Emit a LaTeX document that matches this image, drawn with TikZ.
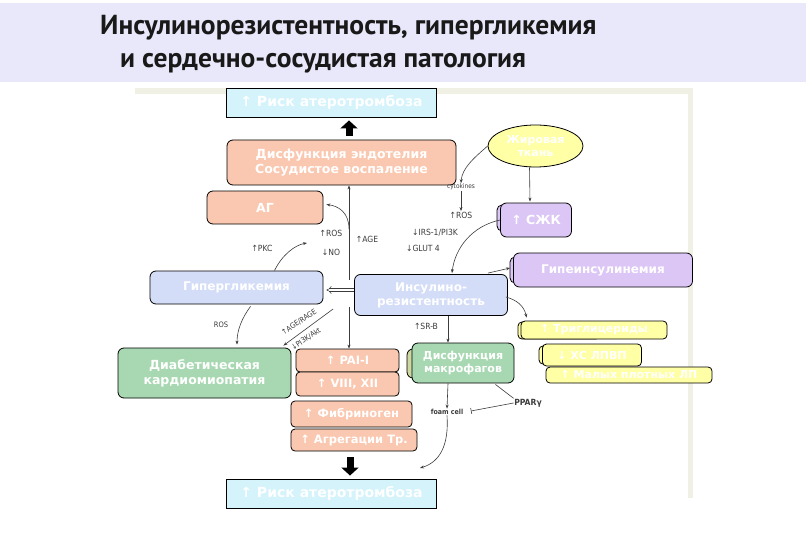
\documentclass[tikz,border=0pt]{standalone}
\usepackage{fontspec}
\setmainfont{DejaVu Sans}
\newfontfamily\titlefont{PT Sans}
\newfontfamily\lblfont{DejaVu Sans Condensed}
\usetikzlibrary{arrows.meta,shapes.geometric,calc}
\definecolor{peach}{RGB}{250,200,176}
\definecolor{cyanbox}{RGB}{212,243,251}
\definecolor{bluebox}{RGB}{212,221,248}
\definecolor{lavbox}{RGB}{220,198,246}
\definecolor{greenbox}{RGB}{168,216,178}
\definecolor{yelbox}{RGB}{255,255,165}
\definecolor{olivebox}{RGB}{205,215,160}
\definecolor{band}{RGB}{232,232,250}
\definecolor{framec}{RGB}{240,240,228}
\definecolor{titlec}{RGB}{25,25,25}
\definecolor{linec}{RGB}{60,60,60}
\begin{document}
\begin{tikzpicture}[x=1pt,y=-1pt,
  box/.style={draw=black, line width=0.8pt, rounded corners=6pt, text=white,
    font=\bfseries\fontsize{12.5}{15}\selectfont, align=center, inner sep=0pt},
  riskbox/.style={draw=black, line width=0.9pt, fill=cyanbox, text=white,
    font=\bfseries\fontsize{14}{16}\selectfont, inner sep=0pt,
    minimum width=210, minimum height=29},
  smallbox/.style={box, rounded corners=4pt, font=\bfseries\fontsize{11}{13}\selectfont},
  lbl/.style={font=\lblfont\fontsize{8.5}{9}\selectfont, text=linec, inner sep=0.5pt},
  arr/.style={draw=linec, line width=0.6pt, -{Stealth[length=4pt,width=3pt]}},
  plain/.style={draw=linec, line width=0.6pt},
  blockarr/.style={line width=7pt, draw=black, -{Triangle[length=8pt,width=17pt]}}
]
\useasboundingbox (0,0) rectangle (810,540);
% title band
\fill[band] (0,3) rectangle (806,82);
\node[anchor=west, text=titlec, inner sep=0pt] (t1) at (100,28)
  {\titlefont\bfseries\fontsize{27.5}{30}\selectfont Инсулинорезистентность, гипергликемия};
\node[anchor=west, text=titlec, inner sep=0pt] (t2) at (120,63)
  {\titlefont\bfseries\fontsize{27.5}{30}\selectfont и сердечно-сосудистая патология};
% panel frame (top and right strips)
\fill[framec] (135,88) rectangle (693,94);
\fill[framec] (688,88) rectangle (693,498);

% boxes
\node[riskbox] (risk1) at (331.5,102.5) {↑ Риск атеротромбоза};
\node[box, fill=peach, minimum width=229, minimum height=45] (endo) at (341.5,162.5)
  {Дисфункция эндотелия\\Сосудистое воспаление};
\node[box, fill=peach, minimum width=116, minimum height=33] (ag) at (265,207.5) {АГ};
\node[ellipse, draw=black, line width=0.8pt, fill=yelbox, text=white,
  font=\bfseries\fontsize{11}{12.5}\selectfont, align=center, inner sep=0pt,
  minimum width=95, minimum height=42] (fat) at (535.5,146) {Жировая\\ткань};
% SZhK with back box
\draw[line width=0.8pt, fill=lavbox, rounded corners=5pt] (497,205) rectangle (540,231);
\node[box, fill=lavbox, minimum width=71, minimum height=34] (szhk) at (536,220) {↑ СЖК};
\node[box, fill=bluebox, minimum width=173, minimum height=33, font=\bfseries\fontsize{12}{14}\selectfont] (hyper) at (236.5,287.5) {Гипергликемия};
\node[box, fill=bluebox, minimum width=153, minimum height=41, font=\bfseries\fontsize{12}{14}\selectfont] (ir) at (431,295) {Инсулино-\\резистентность};
% hyperinsulinemia with back box
\draw[line width=0.8pt, fill=lavbox, rounded corners=5pt] (510,257) rectangle (560,283);
\node[box, fill=lavbox, minimum width=179, minimum height=34, font=\bfseries\fontsize{12}{14}\selectfont] (hins) at (603,270) {Гипеинсулинемия};
% lipid boxes
\draw[line width=0.8pt, fill=yelbox, rounded corners=4pt] (518,322) rectangle (600,339);
\node[smallbox, fill=yelbox, minimum width=146, minimum height=18] (tg) at (594,330) {↑ Триглицериды};
\draw[line width=0.8pt, fill=yelbox, rounded corners=4pt] (539,346) rectangle (590,364);
\node[smallbox, fill=yelbox, minimum width=99, minimum height=22] (hdl) at (592,355) {↓ ХС ЛПВП};
\node[smallbox, fill=yelbox, minimum width=166, minimum height=16] (sdl) at (629,375) {↑ Малых плотных ЛП};
% cardiomyopathy
\node[box, fill=greenbox, minimum width=173, minimum height=50] (cardio) at (204.5,373)
  {Диабетическая\\кардиомиопатия};
% coagulation boxes
\node[smallbox, fill=peach, minimum width=103, minimum height=23, font=\bfseries\fontsize{11.5}{13}\selectfont] (pai) at (347.5,360.5) {↑ PAI-I};
\node[smallbox, fill=peach, minimum width=103, minimum height=24, font=\bfseries\fontsize{11.5}{13}\selectfont] (f812) at (347.5,384) {↑ VIII, XII};
\node[smallbox, fill=peach, minimum width=121, minimum height=26, font=\bfseries\fontsize{11.5}{13}\selectfont] (fib) at (351.5,414) {↑ Фибриноген};
\node[smallbox, fill=peach, minimum width=126, minimum height=22, font=\bfseries\fontsize{11.5}{13}\selectfont] (agg) at (354,440) {↑ Агрегации Тр.};
% macrophage box with back box
\draw[line width=0.8pt, fill=olivebox, rounded corners=6pt] (407,349) rectangle (450,378);
\node[box, fill=greenbox, minimum width=102, minimum height=40, font=\bfseries\fontsize{11}{13.5}\selectfont] (macro) at (463,363) {Дисфункция\\макрофагов};
\node[riskbox] (risk2) at (331.5,493.5) {↑ Риск атеротромбоза};

% block arrows
\draw[blockarr] ($(endo.north)+(7.5,-4)$) -- ($(risk1.south)+(17.5,3)$);
\draw[blockarr] ($(agg.south)+(-4,6)$) -- ($(risk2.north)+(18.5,-3)$);

% small labels
\node[lbl, font=\lblfont\fontsize{6.5}{7}\selectfont] (cyt) at (461,187) {cytokines};
\node[lbl] (ros2) at (461,215) {↑ROS};
\node[lbl] (irs) at (435,233) {↓IRS-1/PI3K};
\node[lbl] (glut) at (423,248) {↓GLUT 4};
\node[lbl] (ros1) at (331,233) {↑ROS};
\node[lbl] (no) at (331,252) {↓NO};
\node[lbl] (age) at (367,239) {↑AGE};
\node[lbl] (pkc) at (262,248) {↑PKC};
\node[lbl, font=\lblfont\fontsize{7.5}{8}\selectfont] (ros3) at (221,325) {ROS};
\node[lbl, rotate=34, font=\lblfont\fontsize{7.5}{8}\selectfont] (rage) at (299,322) {↑AGE/RAGE};
\node[lbl, rotate=34, font=\lblfont\fontsize{7.5}{8}\selectfont] (akt) at (306,339) {↓PI3K/Akt};
\node[lbl] (srb) at (426,326) {↑SR-B};
\node[lbl, font=\lblfont\bfseries\fontsize{7}{8}\selectfont] (foam) at (447,412) {foam cell};
\node[lbl, font=\lblfont\bfseries\fontsize{8.5}{9}\selectfont] (ppar) at (528,403) {PPARγ};

% connector coordinates
\coordinate (vtop) at (349,280);
\coordinate (vbot) at (349,307);
\coordinate (agsrc) at (349,229);
\coordinate (dl) at (0,290);
\coordinate (foamend) at (420,468);

% connectors
\draw[arr] (vtop) -- (endo.south -| vtop);
\draw[arr] (vbot) -- (pai.north -| vbot);
\draw[arr] (agsrc) .. controls (349,212) and (338,206) .. ($(ag.east)+(3,-3)$);
\draw[line width=0.5pt, double=white, double distance=2.2pt, draw=linec, -{Implies}]
  (ir.west |- dl) -- ($(hyper.east |- dl)+(3,0)$);
\draw[arr] ($(hyper.north)+(38,0)$) .. controls (282,255) and (295,245) .. (307,243);
\draw[arr] ($(hyper.south)+(14,2)$) .. controls (242,318) and (237,330) .. ($(cardio.north)+(32.5,-3)$);
\draw[arr] ($(ir.west)+(-21,14)$) -- ($(cardio.north east)+(-8,-2)$);
\draw[arr] (fat.west) .. controls (474,158) and (462,168) .. (cyt.north);
\draw[arr] (cyt.south) -- (ros2.north);
\draw[arr] ($(fat.south)+(-6,0)$) -- ($(szhk.north)+(-6,-1)$);
\draw[arr] (szhk.west) .. controls (472,226) and (455,248) .. ($(ir.north)+(21,-1)$);
\draw[arr] ($(ir.north east)+(-20,-1)$) -- ($(hins.west)+(-3,-2)$);
\draw[arr] ($(ir.east)+(-2,2)$) .. controls (517,300) and (524,306) .. ($(tg.north west)+(6,-3)$);
\draw[arr] ($(ir.south)+(17,0)$) -- ($(macro.north)+(-15,0)$);
\draw[arr] ($(macro.south)+(-15,0)$) -- (foam.north);
\draw[arr] (foam.south) .. controls (449,445) and (440,462) .. (foamend);
\draw[plain] (ppar.north west) -- ($(macro.south east)+(-19,1)$);
\draw[plain, -{Bar[width=6pt]}] (ppar.west) -- ($(foam.east)+(7,-1)$);
\end{tikzpicture}
\end{document}
